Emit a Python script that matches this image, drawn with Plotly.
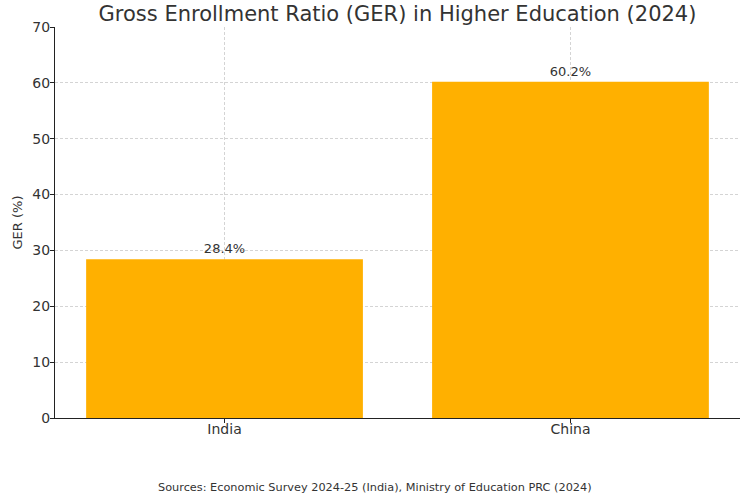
import plotly.graph_objects as go

# data
countries = ["India", "China"]
ger_values = [28.4, 60.2]
value_labels = ["28.4%", "60.2%"]
y_ticks = [0, 10, 20, 30, 40, 50, 60, 70]

bar_color = "#FFB000"
text_color = "#333333"
font_family = "DejaVu Sans, Verdana, sans-serif"
grid_color = "#d4d4d4"

W, H = 750, 500
L, T, R, B = 55, 27, 10, 82
plot_h = H - T - B

fig = go.Figure()

fig.add_trace(go.Bar(
    x=[0, 1],
    y=ger_values,
    width=0.8,
    marker=dict(color=bar_color, line=dict(width=0)),
    text=value_labels,
    textposition="outside",
    textfont=dict(size=13, color=text_color, family=font_family),
    cliponaxis=False,
))

fig.update_layout(
    width=W,
    height=H,
    paper_bgcolor="white",
    plot_bgcolor="white",
    margin=dict(l=L, r=R, t=T, b=B, autoexpand=False),
    showlegend=False,
    bargap=0.2,
    title=dict(
        text="Gross Enrollment Ratio (GER) in Higher Education (2024)",
        x=(L + (W - R)) / 2 / W,
        xanchor="center",
        y=1 - 14 / H,
        yanchor="middle",
        font=dict(size=21, color=text_color, family=font_family),
    ),
    font=dict(family=font_family, color=text_color),
)

fig.update_xaxes(
    range=[-0.49, 1.49],
    tickvals=[0, 1],
    ticktext=countries,
    tickfont=dict(size=14, color=text_color),
    ticklabelstandoff=-6,
    showgrid=True,
    gridcolor=grid_color,
    griddash="3px,2px",
    gridwidth=0.8,
    showline=True,
    linecolor="#222222",
    linewidth=1.2,
    ticks="outside",
    ticklen=4,
    tickcolor="#222222",
    zeroline=False,
    automargin=False,
)

fig.update_yaxes(
    range=[0, 70],
    tickvals=y_ticks,
    tickfont=dict(size=14, color=text_color),
    ticklabelstandoff=-3,
    showgrid=True,
    gridcolor=grid_color,
    griddash="3px,2px",
    gridwidth=0.8,
    showline=True,
    linecolor="#222222",
    linewidth=1.2,
    ticks="outside",
    ticklen=4,
    tickcolor="#222222",
    zeroline=False,
    automargin=False,
    title=dict(
        text="GER (%)",
        font=dict(size=13, color=text_color, family=font_family),
        standoff=6,
    ),
)

fig.add_annotation(
    text="Sources: Economic Survey 2024-25 (India), Ministry of Education PRC (2024)",
    xref="paper", yref="paper",
    x=(375 - L) / (W - L - R),
    y=-(487 - (T + plot_h)) / plot_h,
    xanchor="center", yanchor="middle",
    showarrow=False,
    font=dict(size=11.3, color=text_color, family=font_family),
)

# drop the browser's default 8px body margin so the figure fills the window
fig.write_html(
    "out.html",
    config={"displayModeBar": False},
    post_script="document.body.style.margin = '0';",
)
